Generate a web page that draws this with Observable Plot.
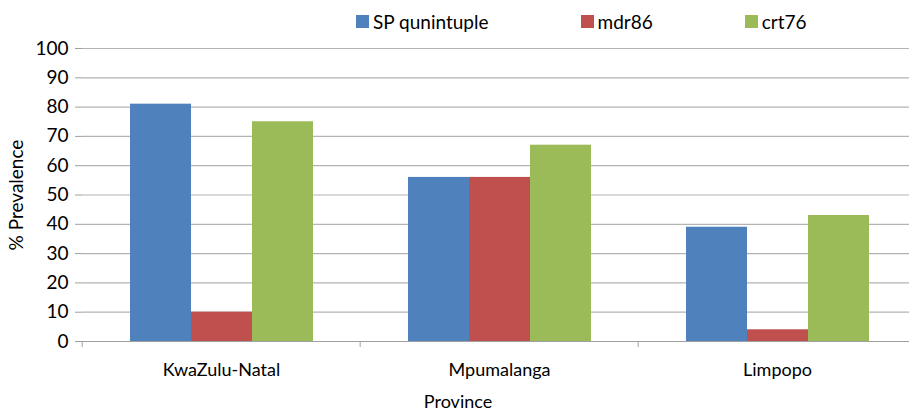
<!DOCTYPE html>
<html><head><meta charset="utf-8">
<script src="https://cdn.jsdelivr.net/npm/d3@7"></script>
<script src="https://cdn.jsdelivr.net/npm/@observablehq/plot@0.6"></script>
<style>
body{margin:0;background:#fff;font-family:Lato,"Open Sans",sans-serif;overflow:hidden;color:#000;}
#legend{height:40px;width:909px;padding-left:356px;box-sizing:border-box;padding-top:5px;}
#legend > div{flex-wrap:nowrap !important;white-space:nowrap;}
#legend .lg-swatch{margin-right:92px;}
#legend .lg-swatch svg{margin-right:4px;}
#cap{width:916px;text-align:center;font-size:18px;line-height:22px;margin-top:2px;}
</style></head><body>
<div id="legend"></div><div id="chart"></div><div id="cap">Province</div>
<script>
const provinces = ["KwaZulu-Natal", "Mpumalanga", "Limpopo"];
const series = ["SP qunintuple", "mdr86", "crt76"];
const spQuintuple = [81, 56, 39];
const mdr86 = [10, 56, 4];
const crt76 = [75, 67, 43];
const yTicks = [0, 10, 20, 30, 40, 50, 60, 70, 80, 90, 100];
const colors = ["#4F81BD", "#C0504D", "#9BBB59"];

const seriesValues = [spQuintuple, mdr86, crt76];
const data = provinces.flatMap((p, i) => series.map((s, j) => ({province: p, series: s, value: seriesValues[j][i]})));

const W = 909, ML = 81, MR = -8;
const step = (W - ML - MR) / provinces.length;

document.getElementById("legend").append(Plot.legend({
  color: {domain: series, range: colors},
  legend: "swatches",
  swatchSize: 13,
  className: "lg",
  style: {fontFamily: "Lato", fontSize: "19px", color: "#000"}
}));

const chart = Plot.plot({
  width: W, height: 348,
  marginTop: 8, marginBottom: 47, marginLeft: ML, marginRight: MR,
  style: {fontFamily: "Lato", fontSize: "18px", color: "#000", background: "#fff", overflow: "visible"},
  fx: {domain: provinces, padding: 0, label: null},
  x: {domain: series, paddingInner: 0, paddingOuter: 0.75, axis: null},
  y: {domain: [0, 100]},
  color: {domain: series, range: colors},
  marks: [
    Plot.gridY(yTicks, {stroke: "#b3b3b3", strokeOpacity: 1, strokeWidth: 1.2}),
    Plot.barY(data, {fx: "province", x: "series", y: "value", fill: "series"}),
    Plot.ruleY([0], {stroke: "#a0a0a0", strokeWidth: 1.2}),
    Plot.axisY({ticks: yTicks, tickSize: 7, tickPadding: 7, line: true, stroke: "#a0a0a0", fill: "#000",
      label: "% Prevalence", labelAnchor: "center", labelArrow: "none", labelOffset: 73, fontSize: 19}),
    Plot.axisFx({anchor: "bottom", tickSize: 6, text: null, dx: -step / 2, stroke: "#a0a0a0", label: null}),
    Plot.axisFx({anchor: "bottom", tickSize: 0, tickPadding: 22, label: null, fontSize: 18, fill: "#000"})
  ]
});
document.getElementById("chart").append(chart);
</script>
</body></html>
